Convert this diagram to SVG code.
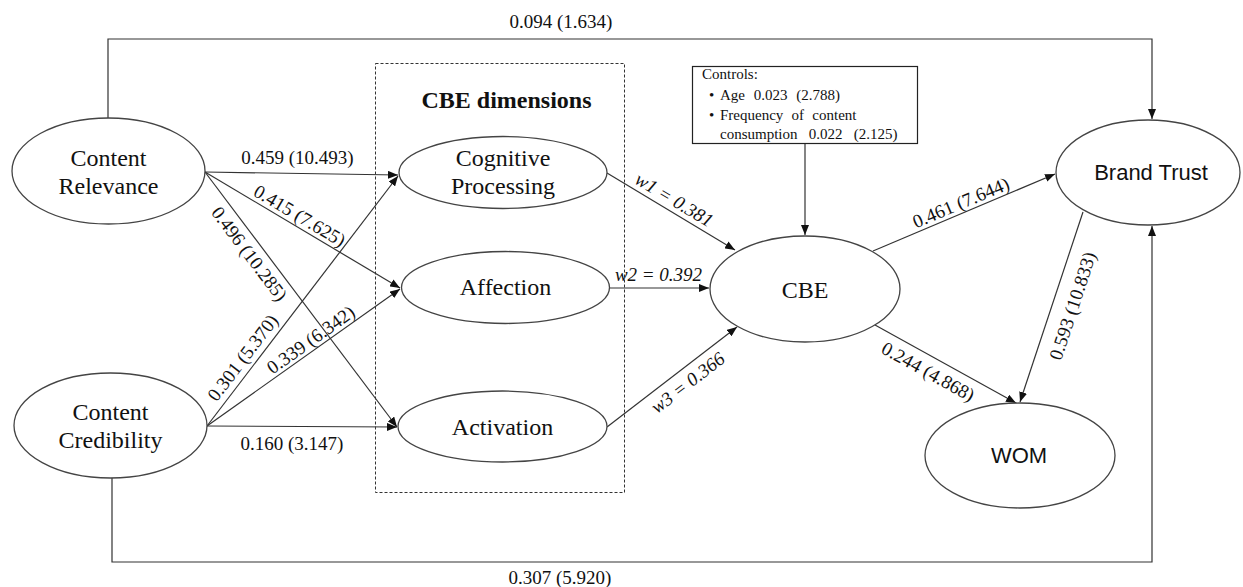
<svg xmlns="http://www.w3.org/2000/svg" width="1243" height="587" viewBox="0 0 1243 587">
<defs>
<marker id="arr" markerUnits="userSpaceOnUse" markerWidth="11" markerHeight="8" refX="10" refY="4" orient="auto">
<path d="M0,0 L10,4 L0,8 z" fill="#111"/>
</marker>
<style>
.node ellipse{fill:#fff;stroke:#444;stroke-width:1.3}
.edge{fill:none;stroke:#333;stroke-width:1.2}
.ea{marker-end:url(#arr)}
.lb{font-family:"Liberation Serif","Times New Roman",serif;font-size:19px;fill:#111;text-anchor:middle}
.it{font-style:italic}
.ct{font-family:"Liberation Serif","Times New Roman",serif;font-size:15px;fill:#111}
</style>
</defs>
<rect width="1243" height="587" fill="#fff"/>

<g id="cbe-dimensions-box">
<rect x="375.5" y="63.5" width="249" height="429" fill="none" stroke="#333" stroke-width="1" stroke-dasharray="3,2"/>
<text x="506.5" y="108" font-family="Liberation Serif, Times New Roman, serif" font-size="24" font-weight="bold" text-anchor="middle" fill="#111">CBE dimensions</text>
</g>

<g id="connectors">
<path class="edge ea" d="M108,118 V39 H1152 V119"/>
<path class="edge ea" d="M112,478 V562 H1152 V226"/>
<path class="edge ea" d="M205,172 L398,175"/>
<path class="edge ea" d="M205,172 L400,288"/>
<path class="edge ea" d="M205,172 L397,427"/>
<path class="edge ea" d="M207,426 L398,176"/>
<path class="edge ea" d="M207,426 L400,289"/>
<path class="edge ea" d="M207,426 L397,427"/>
<path class="edge ea" d="M607,173 L735,250"/>
<path class="edge ea" d="M609,288 L709,288"/>
<path class="edge ea" d="M607,427 L737,327"/>
<path class="edge ea" d="M805,143 V235"/>
<path class="edge ea" d="M873,251 L1055,174"/>
<path class="edge ea" d="M875,325 L1016,403"/>
<path class="edge ea" d="M1083,212 L1020,402"/>

<text class="lb" x="561" y="28">0.094 (1.634)</text>
<text class="lb" x="560" y="584">0.307 (5.920)</text>
<text class="lb" x="297.5" y="164">0.459 (10.493)</text>
<text class="lb" x="292" y="450">0.160 (3.147)</text>
<text class="lb" transform="translate(299.5,216) rotate(30.7)" y="6">0.415 (7.625)</text>
<text class="lb" transform="translate(249,254) rotate(53)" y="6">0.496 (10.285)</text>
<text class="lb" transform="translate(243,358) rotate(-52.6)" y="6">0.301 (5.370)</text>
<text class="lb" transform="translate(311,340) rotate(-35.4)" y="6">0.339 (6.342)</text>
<text class="lb it" transform="translate(674,200) rotate(31)" y="6">w1 = 0.381</text>
<text class="lb it" x="658.5" y="281">w2 = 0.392</text>
<text class="lb it" transform="translate(688,383) rotate(-37.6)" y="6">w3 = 0.366</text>
<text class="lb" transform="translate(961,203) rotate(-22.9)" y="6">0.461 (7.644)</text>
<text class="lb" transform="translate(928,372) rotate(29)" y="6">0.244 (4.868)</text>
<text class="lb" transform="translate(1073,306) rotate(-71.7)" y="6">0.593 (10.833)</text>
</g>

<g id="controls">
<rect x="692.5" y="66.5" width="225" height="77" fill="#fff" stroke="#222" stroke-width="1.2"/>
<text class="ct" x="702" y="79">Controls:</text>
<text class="ct" x="709" y="100">•</text>
<text class="ct" x="720" y="100" style="word-spacing:5px">Age 0.023 (2.788)</text>
<text class="ct" x="709" y="120">•</text>
<text class="ct" x="720" y="120" style="word-spacing:4.5px">Frequency of content</text>
<text class="ct" x="720" y="139" style="word-spacing:7.5px">consumption 0.022 (2.125)</text>
</g>

<g id="content-relevance" class="node" font-family="Liberation Serif, Times New Roman, serif" font-size="24" text-anchor="middle" fill="#111">
<ellipse cx="108.5" cy="171" rx="96.5" ry="53"/>
<text x="108.5" y="166">Content</text>
<text x="108.5" y="194">Relevance</text>
</g>

<g id="content-credibility" class="node" font-family="Liberation Serif, Times New Roman, serif" font-size="24" text-anchor="middle" fill="#111">
<ellipse cx="110.5" cy="425.5" rx="96.5" ry="52.5"/>
<text x="110.5" y="420">Content</text>
<text x="110.5" y="448">Credibility</text>
</g>

<g id="cognitive-processing" class="node" font-family="Liberation Serif, Times New Roman, serif" font-size="24" text-anchor="middle" fill="#111">
<ellipse cx="503" cy="172.5" rx="104" ry="36"/>
<text x="503" y="166">Cognitive</text>
<text x="503" y="194">Processing</text>
</g>

<g id="affection" class="node" font-family="Liberation Serif, Times New Roman, serif" font-size="24" text-anchor="middle" fill="#111">
<ellipse cx="505.5" cy="287.5" rx="104" ry="36"/>
<text x="505.5" y="295">Affection</text>
</g>

<g id="activation" class="node" font-family="Liberation Serif, Times New Roman, serif" font-size="24" text-anchor="middle" fill="#111">
<ellipse cx="502.5" cy="426.5" rx="104.5" ry="35.5"/>
<text x="502.5" y="435">Activation</text>
</g>

<g id="cbe" class="node" font-family="Liberation Serif, Times New Roman, serif" font-size="24" text-anchor="middle" fill="#111">
<ellipse cx="805" cy="289" rx="95" ry="53"/>
<text x="805" y="298">CBE</text>
</g>

<g id="brand-trust" class="node" font-family="Liberation Sans, Arial, sans-serif" font-size="22" text-anchor="middle" fill="#111">
<ellipse cx="1148" cy="172.5" rx="92" ry="52.5"/>
<text x="1151" y="180">Brand Trust</text>
</g>

<g id="wom" class="node" font-family="Liberation Sans, Arial, sans-serif" font-size="22" text-anchor="middle" fill="#111">
<ellipse cx="1020" cy="455.5" rx="95" ry="52.5"/>
<text x="1019" y="463">WOM</text>
</g>
</svg>
